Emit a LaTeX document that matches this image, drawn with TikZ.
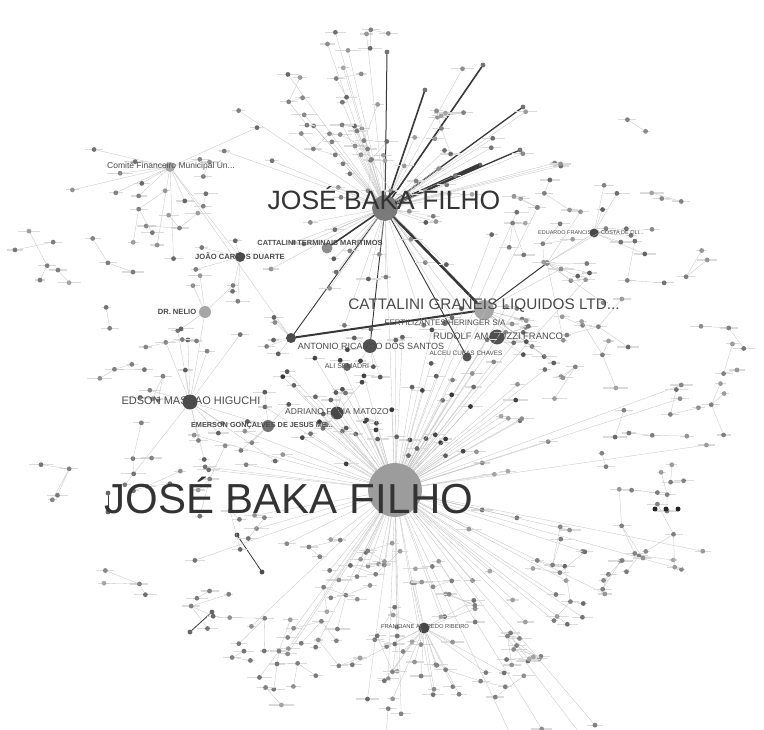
\documentclass[tikz,border=0pt]{standalone}
\usepackage{fontspec}
\setmainfont{Liberation Sans}
\usetikzlibrary{positioning, calc}

\definecolor{hubgray}{HTML}{9C9C9C}
\definecolor{linkgray}{HTML}{C2C2C2}
\definecolor{textgray}{HTML}{333333}
\definecolor{smalltext}{HTML}{4A4A4A}

\tikzstyle{leaf} = [circle, inner sep=0pt, minimum size=4.8pt]
\tikzstyle{hub} = [circle, inner sep=0pt]
\tikzstyle{link} = [draw=linkgray, line width=0.3pt]
\tikzstyle{heavy} = [draw=black!78, line cap=round]
\tikzstyle{lblbar} = [draw=gray!28, line width=1.2pt]
\tikzstyle{tag} = [text=smalltext, inner sep=0pt]

% leaves round a hub: hub, count, angle from, angle to, dist from, dist to, tone
\newcommand{\fanout}[7]{%
  \foreach \k in {1,...,#2}{%
    \pgfmathsetmacro\fanang{#3+rnd*(#4-#3)}%
    \pgfmathsetmacro\fandst{#5+rnd*(#6-#5)}%
    \pgfmathtruncatemacro\fantone{#7+rnd*25}%
    \pgfmathsetmacro\barlen{4+rnd*9}%
    \coordinate (spot) at ([shift={(\fanang:\fandst)}]#1);
    \draw[lblbar] ([xshift=-\barlen pt]spot) -- ([xshift=\barlen pt]spot);
    \node[leaf, fill=black!\fantone] (#1-\k) at (spot) {};
    \draw[link] (#1) -- (#1-\k);
  }}

\begin{document}
\begin{tikzpicture}[x=1pt, y=-1pt]
  \useasboundingbox[fill=white] (0,0) rectangle (764,730);
  \pgfmathsetseed{2718}

  % Hubs
  \node[hub, fill=hubgray, minimum size=54pt] (jbBot) at (395,490) {};
  \node[hub, fill=black!52, minimum size=26pt] (jbTop) at (385,208) {};
  \node[hub, fill=black!35, minimum size=20pt] (cgl) at (484,310) {};
  \node[hub, fill=black!68, minimum size=15pt] (rudolf) at (497,337) {};
  \node[hub, fill=black!68, minimum size=14pt] (antonio) at (370,346) {};
  \node[hub, fill=black!70, minimum size=10pt] (marco) at (291,338) {};
  \node[hub, fill=black!68, minimum size=9pt] (alceu) at (467,357) {};
  \node[hub, fill=black!60, minimum size=8pt] (ali) at (347,367) {};
  \node[hub, fill=black!55, minimum size=6pt] (fert) at (445,323) {};
  \node[hub, fill=black!70, minimum size=15pt] (edson) at (190,402) {};
  \node[hub, fill=black!35, minimum size=12pt] (nelio) at (205,312) {};
  \node[hub, fill=black!35, minimum size=10pt] (comite) at (170,167) {};
  \node[hub, fill=black!45, minimum size=11pt] (ctm) at (327,248) {};
  \node[hub, fill=black!70, minimum size=10pt] (joao) at (240,257) {};
  \node[hub, fill=black!72, minimum size=13pt] (adriano) at (337,413) {};
  \node[hub, fill=black!55, minimum size=12pt] (emerson) at (268,426) {};
  \node[hub, fill=black!72, minimum size=11pt] (franciane) at (424,628) {};
  \node[hub, fill=black!72, minimum size=9pt] (eduardo) at (594,233) {};
  \node[hub, fill=black!45, minimum size=6pt] (junct) at (547,263) {};

  % Ends of the heavy lines
  \node[leaf, fill=black!60] (tA) at (480,165) {};
  \node[leaf, fill=black!55] (tB) at (483,65) {};
  \node[leaf, fill=black!55] (tC) at (425,90) {};
  \node[leaf, fill=black!55] (tD) at (523,107) {};
  \node[leaf, fill=black!55] (tE) at (387,52) {};
  \node[leaf, fill=black!55] (tF) at (520,150) {};
  \node[leaf, fill=black!70] (bA) at (237,535) {};
  \node[leaf, fill=black!70] (bB) at (262,572) {};
  \node[leaf, fill=black!60] (bC) at (190,632) {};
  \node[leaf, fill=black!60] (bD) at (212,612) {};
  \node[leaf, fill=black!60] (bE) at (108,493) {};
  \node[leaf, fill=black!60] (bF) at (108,512) {};

  % Heavy lines
  \draw[heavy, line width=4pt] (jbTop) -- (tA);
  \draw[heavy, line width=1.6pt] (jbTop) -- (tB);
  \draw[heavy, line width=1.6pt] (jbTop) -- (tC);
  \draw[heavy, line width=1.3pt] (jbTop) -- (tD);
  \draw[heavy, line width=1pt] (jbTop) -- (tE);
  \draw[heavy, line width=1.3pt] (jbTop) -- (tF);
  \draw[heavy, line width=2.6pt] (jbTop) -- (cgl);
  \draw[heavy, line width=1.6pt] (jbTop) -- (ctm);
  \draw[heavy, line width=0.9pt] (jbTop) -- (antonio);
  \draw[heavy, line width=0.9pt] (jbTop) -- (marco);
  \draw[heavy, line width=0.9pt] (jbTop) -- (alceu);
  \draw[heavy, line width=2pt] (marco) -- (cgl);
  \draw[heavy, line width=1pt] (cgl) -- (junct);
  \draw[heavy, line width=0.8pt] (bA) -- (bB);
  \draw[heavy, line width=0.8pt] (bC) -- (bD);
  \draw[heavy, line width=0.6pt] (bE) -- (bF);
  \draw[link] (junct) -- (eduardo);
  \draw[link] (jbTop) -- (jbBot);
  \draw[link] (edson) -- (nelio);
  \draw[link] (edson) -- (emerson);
  \draw[link] (comite) -- (joao);
  \draw[link] (comite) -- (marco);

  % Fans round the hubs
  \fanout{jbTop}{40}{-178}{-2}{45}{185}{35}
  \fanout{jbTop}{22}{8}{172}{40}{140}{40}
  \fanout{jbBot}{48}{-70}{70}{70}{330}{35}
  \fanout{jbBot}{45}{-155}{-25}{35}{170}{55}
  \fanout{jbBot}{22}{70}{150}{60}{225}{35}
  \fanout{jbBot}{10}{150}{205}{60}{230}{35}
  \fanout{comite}{12}{-40}{200}{25}{110}{35}
  \fanout{edson}{14}{0}{360}{25}{110}{40}
  \fanout{franciane}{15}{15}{170}{25}{95}{40}
  \fanout{franciane}{5}{-160}{-20}{25}{60}{40}
  \fanout{eduardo}{8}{-100}{60}{18}{60}{40}
  \fanout{junct}{8}{-60}{90}{20}{80}{40}
  \fanout{joao}{5}{90}{270}{15}{50}{40}
  \fanout{nelio}{4}{0}{360}{15}{50}{40}
  \fanout{adriano}{6}{0}{360}{12}{40}{50}
  \fanout{emerson}{5}{0}{360}{12}{40}{50}
  \fanout{antonio}{6}{0}{360}{12}{40}{50}
  \fanout{cgl}{8}{-60}{60}{20}{90}{40}
  \fanout{rudolf}{5}{-30}{60}{15}{60}{45}
  \fanout{marco}{5}{90}{270}{15}{45}{45}

  % Outer ring of small groups
  \foreach \i in {1,...,85}{
    \pgfmathsetmacro\pa{rnd*360}
    \pgfmathsetmacro\pr{190+rnd*172}
    \pgfmathsetmacro\px{385+\pr*cos(\pa)}
    \pgfmathsetmacro\py{370+0.95*\pr*sin(\pa)}
    \pgfmathtruncatemacro\pn{1+rnd*3}
    \draw[lblbar] (\px-9,\py) -- (\px+9,\py);
    \node[leaf, fill=black!50] (p\i) at (\px,\py) {};
    \fanout{p\i}{\pn}{0}{360}{12}{40}{35}
  }

  % The three dots
  \foreach \d [count=\j] in {655,666,678}
    \node[circle, fill=black!85, inner sep=0pt, minimum size=5pt] (dot\j) at (\d,509) {};

  % Labels
  \node[text=textgray, inner sep=0pt, font=\fontsize{42}{42}\selectfont] (jbBot-lbl) at (289,495) {JOSÉ BAKA FILHO};
  \node[text=textgray, inner sep=0pt, font=\fontsize{26.5}{26.5}\selectfont] (jbTop-lbl) at (384,198) {JOSÉ BAKA FILHO};
  \node[tag, font=\fontsize{15.3}{15.3}\selectfont] (cgl-lbl) at (484,306) {CATTALINI GRANEIS LIQUIDOS LTD...};
  \node[tag, font=\fontsize{9.4}{9.4}\selectfont] (rudolf-lbl) at (498,336) {RUDOLF AMATUZZI FRANCO};
  \node[tag, font=\fontsize{9}{9}\selectfont] (antonio-lbl) at (371,346) {ANTONIO RICARDO DOS SANTOS};
  \node[tag, font=\fontsize{8}{8}\selectfont] (fert-lbl) at (445,323) {FERTILIZANTES HERINGER S/A};
  \node[tag, font=\fontsize{6.4}{6.4}\selectfont] (alceu-lbl) at (466,353) {ALCEU CUBAS CHAVES};
  \node[tag, font=\fontsize{7}{7}\selectfont] (ali-lbl) at (347,366) {ALI SEMADRI};
  \node[tag, font=\fontsize{11}{11}\selectfont] (edson-lbl) at (191,401) {EDSON MASSAO HIGUCHI};
  \node[tag, font=\fontsize{8.5}{8.5}\selectfont] (adriano-lbl) at (337,412) {ADRIANO FARIA MATOZO};
  \node[tag, font=\bfseries\fontsize{7.3}{7.3}\selectfont] (emerson-lbl) at (262,426) {EMERSON GONÇALVES DE JESUS ME...};
  \node[tag, font=\bfseries\fontsize{7.4}{7.4}\selectfont] (ctm-lbl) at (320,243) {CATTALINI TERMINAIS MARITIMOS};
  \node[tag, font=\bfseries\fontsize{7.6}{7.6}\selectfont] (joao-lbl) at (240,256) {JOÃO CARLOS DUARTE};
  \node[tag, font=\bfseries\fontsize{7.6}{7.6}\selectfont] (nelio-lbl) at (177,312) {DR. NELIO};
  \node[tag, font=\fontsize{8.5}{8.5}\selectfont] (comite-lbl) at (171,166) {Comitê Financeiro Municipal Ún...};
  \node[tag, font=\fontsize{5.5}{5.5}\selectfont] (eduardo-lbl) at (591,233) {EDUARDO FRANCISCO COSTA DE OLI...};
  \node[tag, font=\fontsize{5.8}{5.8}\selectfont] (franciane-lbl) at (425,627) {FRANCIANE ALFREDO RIBEIRO};
\end{tikzpicture}
\end{document}
